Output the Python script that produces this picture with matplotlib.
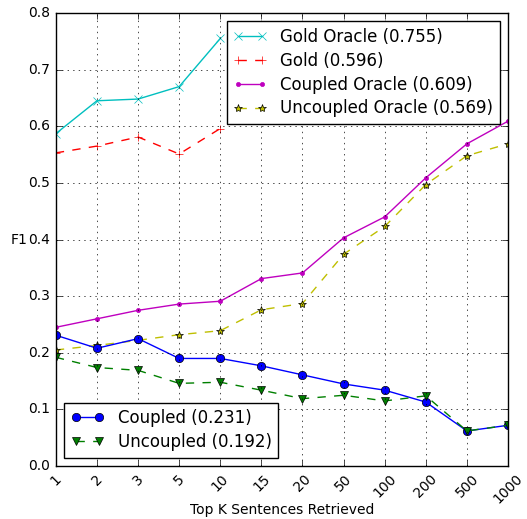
import matplotlib
matplotlib.use("Agg")
import matplotlib.pyplot as plt

plt.style.use('classic')
plt.rcParams['font.size'] = 10
plt.rcParams['legend.fontsize'] = 12

k_labels = ["1", "2", "3", "5", "10", "15", "20", "50", "100", "200", "500", "1000"]
gold_oracle = [0.587, 0.645, 0.648, 0.670, 0.755]
gold = [0.553, 0.565, 0.581, 0.551, 0.596]
coupled_oracle = [0.245, 0.260, 0.275, 0.286, 0.291, 0.331, 0.341, 0.403, 0.440, 0.509, 0.569, 0.609]
uncoupled_oracle = [0.205, 0.213, 0.222, 0.232, 0.239, 0.276, 0.287, 0.374, 0.423, 0.497, 0.548, 0.569]
coupled = [0.231, 0.208, 0.225, 0.190, 0.190, 0.177, 0.161, 0.145, 0.134, 0.113, 0.062, 0.072]
uncoupled = [0.192, 0.174, 0.169, 0.146, 0.148, 0.134, 0.119, 0.125, 0.115, 0.124, 0.062, 0.072]

fig = plt.figure(figsize=(5.27, 5.19), dpi=100)
ax = fig.add_axes([0.106, 0.102, 0.858, 0.873])
x = list(range(len(k_labels)))

l1, = ax.plot(x[:len(gold_oracle)], gold_oracle, color='c', linestyle='-', marker='x', label='Gold Oracle (0.755)')
l2, = ax.plot(x[:len(gold)], gold, color='r', linestyle='--', marker='+', label='Gold (0.596)')
l3, = ax.plot(x, coupled_oracle, color='m', linestyle='-', marker='.', label='Coupled Oracle (0.609)')
l4, = ax.plot(x, uncoupled_oracle, color='y', linestyle='--', marker='*', label='Uncoupled Oracle (0.569)')
l5, = ax.plot(x, coupled, color='b', linestyle='-', marker='o', label='Coupled (0.231)')
l6, = ax.plot(x, uncoupled, color='g', linestyle='--', marker='v', label='Uncoupled (0.192)')

ax.set_xlim(0, len(k_labels) - 1)
ax.set_ylim(0.0, 0.8)
ax.set_xticks(x)
ax.set_xticklabels(k_labels, rotation=45)
ax.set_xlabel('Top K Sentences Retrieved', va='center')
ax.xaxis.set_label_coords(0.5, -0.097)
ax.set_ylabel('F1', rotation=0, ha='right', va='center')
ax.yaxis.set_label_coords(-0.062, 0.5)
ax.grid(True)

leg1 = ax.legend(handles=[l1, l2, l3, l4], loc='upper right', handlelength=2.0, labelspacing=0.35)
ax.add_artist(leg1)
ax.legend(handles=[l5, l6], loc='lower left', handlelength=2.0, labelspacing=0.35)

fig.savefig('out.png', dpi=100)
